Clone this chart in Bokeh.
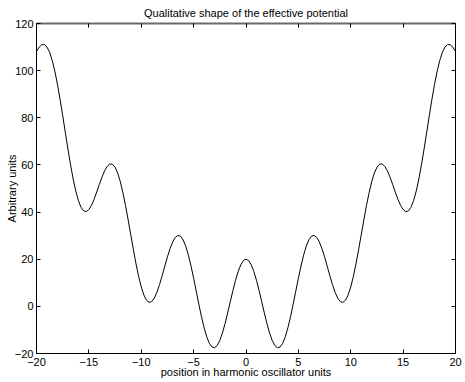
import numpy as np
from bokeh.plotting import figure
from bokeh.models import LinearAxis, FixedTicker, Range1d, CustomLabelingPolicy
from bokeh.embed import file_html
from bokeh.resources import INLINE

# ---- data ----
x_values = np.linspace(-20, 20, 161)
y_values = [
    108.16, 109.94, 110.98, 111.06, 110.02, 107.79, 104.35, 99.78, 94.21, 87.85,
    80.95, 73.82, 66.75, 60.05, 54.01, 48.88, 44.85, 42.03, 40.49, 40.20,
    41.06, 42.89, 45.46, 48.51, 51.73, 54.82, 57.46, 59.40, 60.40, 60.30,
    59.02, 56.52, 52.88, 48.21, 42.73, 36.67, 30.34, 24.03, 18.05, 12.70,
    8.22, 4.81, 2.62, 1.69, 2.03, 3.52, 6.02, 9.30, 13.09, 17.09,
    21.00, 24.50, 27.33, 29.25, 30.09, 29.75, 28.20, 25.49, 21.74, 17.13,
    11.92, 6.39, 0.85, -4.41, -9.07, -12.90, -15.67, -17.24, -17.55, -16.60,
    -14.46, -11.30, -7.32, -2.80, 1.98, 6.70, 11.06, 14.77, 17.61, 19.39,
    20.00,
    19.39, 17.61, 14.77, 11.06, 6.70, 1.98, -2.80, -7.32, -11.30, -14.46,
    -16.60, -17.55, -17.24, -15.67, -12.90, -9.07, -4.41, 0.85, 6.39, 11.92,
    17.13, 21.74, 25.49, 28.20, 29.75, 30.09, 29.25, 27.33, 24.50, 21.00,
    17.09, 13.09, 9.30, 6.02, 3.52, 2.03, 1.69, 2.62, 4.81, 8.22,
    12.70, 18.05, 24.03, 30.34, 36.67, 42.73, 48.21, 52.88, 56.52, 59.02,
    60.30, 60.40, 59.40, 57.46, 54.82, 51.73, 48.51, 45.46, 42.89, 41.06,
    40.20, 40.49, 42.03, 44.85, 48.88, 54.01, 60.05, 66.75, 73.82, 80.95,
    87.85, 94.21, 99.78, 104.35, 107.79, 110.02, 111.06, 110.98, 109.94, 108.16,
]
x_ticks = [-20, -15, -10, -5, 0, 5, 10, 15, 20]
x_tick_labels = ["\u221220", "\u221215", "\u221210", "\u22125", "0", "5", "10", "15", "20"]
y_ticks = [-20, 0, 20, 40, 60, 80, 100, 120]
y_tick_labels = ["\u221220", "0", "20", "40", "60", "80", "100", "120"]
title_text = "Qualitative shape of the effective potential"
x_label = "position in harmonic oscillator units"
y_label = "Arbitrary units"

FONT = "Liberation Sans"
FS = "11px"

x_lo, x_hi = x_ticks[0], x_ticks[-1]
y_lo, y_hi = y_ticks[0], y_ticks[-1]

p = figure(width=465, height=382, x_range=Range1d(x_lo, x_hi), y_range=Range1d(y_lo, y_hi),
           output_backend="svg", toolbar_location=None, title=title_text,
           x_axis_location=None, y_axis_location=None)
p.min_border_left = 36
p.min_border_right = 10
p.min_border_top = 23
p.min_border_bottom = 29
p.background_fill_color = "white"
p.border_fill_color = "white"
p.outline_line_color = None
p.xgrid.visible = False
p.ygrid.visible = False

p.title.text_font = FONT
p.title.text_font_size = FS
p.title.text_font_style = "normal"
p.title.text_color = "black"
p.title.align = "center"
p.title.standoff = 9
p.title.offset = 0

hide_all = CustomLabelingPolicy(code="for (const i of indices) { indices.unset(i) }\nreturn indices")


def style(ax, labels_on, overrides):
    ax.major_tick_in = 4
    ax.major_tick_out = 0
    ax.minor_tick_line_color = None
    ax.axis_line_color = "black"
    ax.major_tick_line_color = "black"
    ax.axis_line_width = 1
    if labels_on:
        ax.major_label_text_font = FONT
        ax.major_label_text_font_size = FS
        ax.major_label_text_color = "black"
        ax.major_label_overrides = overrides
        ax.axis_label_text_font = FONT
        ax.axis_label_text_font_size = FS
        ax.axis_label_text_font_style = "normal"
        ax.axis_label_text_color = "black"
    else:
        ax.major_label_text_font_size = "0px"
        ax.major_label_standoff = 0
        ax.major_label_policy = hide_all


xo = {t: l for t, l in zip(x_ticks, x_tick_labels)}
yo = {t: l for t, l in zip(y_ticks, y_tick_labels)}

bottom = LinearAxis(ticker=FixedTicker(ticks=x_ticks), axis_label=x_label)
style(bottom, True, xo)
bottom.major_label_standoff = 4
bottom.axis_label_standoff = -3
p.add_layout(bottom, "below")

left = LinearAxis(ticker=FixedTicker(ticks=y_ticks), axis_label=y_label)
style(left, True, yo)
left.major_label_standoff = 3
left.axis_label_standoff = -6
p.add_layout(left, "left")

top = LinearAxis(ticker=FixedTicker(ticks=x_ticks))
style(top, False, None)
top.axis_line_color = "#6a6a6a"
top.axis_line_width = 2
p.add_layout(top, "above")

right = LinearAxis(ticker=FixedTicker(ticks=y_ticks))
style(right, False, None)
p.add_layout(right, "right")

p.line(x_values, y_values, line_color="black", line_width=1)

open("out.html", "w").write(file_html(p, INLINE))
